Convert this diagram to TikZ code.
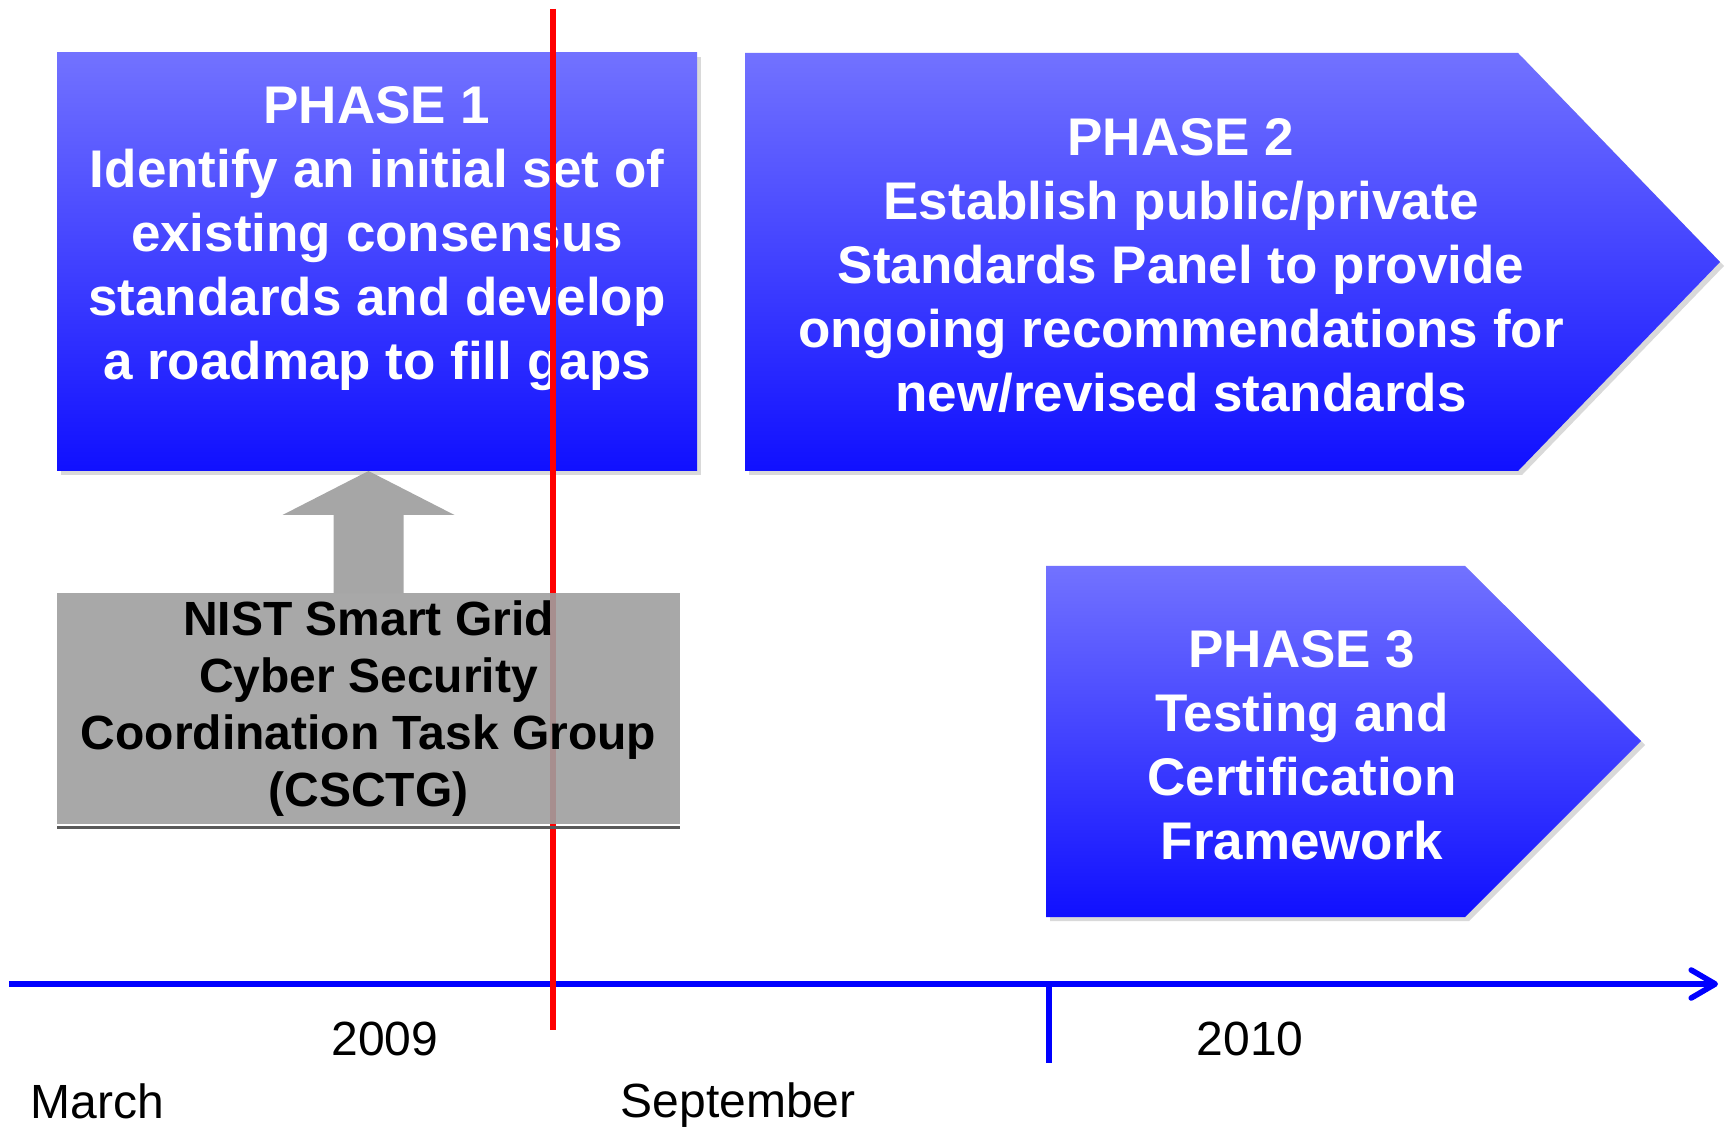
\documentclass[tikz,border=0pt]{standalone}
\usepackage{fontspec}
\setmainfont{Liberation Sans}
\usepackage{xcolor}
\usepackage{tikz}
\usetikzlibrary{arrows.meta,positioning,calc,shadows}
\definecolor{phtop}{RGB}{114,114,255}
\definecolor{phbot}{RGB}{16,16,255}

\begin{document}
\begin{tikzpicture}[x=0.5pt,y=-0.5pt,
 phase/.style={top color=phtop,bottom color=phbot,
 drop shadow={opacity=.3,shadow xshift=2pt,shadow yshift=-2pt}},
 phtxt/.style={text=white,align=center,inner sep=0pt,
 font=\fontsize{26.5pt}{32pt}\selectfont\bfseries},
 grp/.style={fill=black!38,fill opacity=.9,text opacity=1,inner sep=0pt,
 outer sep=0pt,align=center,font=\fontsize{24pt}{28.6pt}\selectfont\bfseries},
 lbl/.style={font=\fontsize{24pt}{28pt}\selectfont,inner sep=0pt},
 axis/.style={blue,line width=2.8pt,-{Straight Barb[round,length=12pt,width=14pt]}}]
\useasboundingbox (0,0) rectangle (1727,1127);

% phases
\node[phase,outer sep=0pt,minimum width=320pt,minimum height=209pt,
 anchor=north west] (ph1) at (57,53) {};
\path[phase] (745,53) -- (1518,53) -- (1720,262) -- (1518,471) -- (745,471) -- cycle;
\path[phase] (1046,566) -- (1465,566) -- (1641,741) -- (1465,917) -- (1046,917) -- cycle;
\node[phtxt] (ph1txt) at (377,239) {PHASE 1\\Identify an initial set of\\existing consensus\\standards and develop\\a roadmap to fill gaps};
\node[phtxt] (ph2txt) at (1181,266) {PHASE 2\\Establish public/private\\Standards Panel to provide\\ongoing recommendations for\\new/revised standards};
\node[phtxt] (ph3txt) at (1302,745) {PHASE 3\\Testing and\\Certification\\Framework};

% time line
\coordinate (t0) at (9,984);
\coordinate (t1) at (1718,984);
\coordinate (tk) at (1049,984);
\draw[axis] (t0) -- (t1);
\draw[blue,line width=2.8pt] (tk) -- ++(0,79);
\coordinate (r0) at (553,9);
\coordinate (r1) at (553,1030);
\draw[red,line width=2.9pt] (r0) -- (r1);

% task group
\node[grp,minimum width=311.5pt,minimum height=115.5pt,anchor=north west]
 (csctg) at (57,593) {NIST Smart Grid\\Cyber Security\\Coordination Task Group\\(CSCTG)};
\draw[black!65,line width=1.6pt] ([yshift=-1.6pt]csctg.south west) -- ([yshift=-1.6pt]csctg.south east);
\fill[black!35] ($(csctg.north)+(-35,0)$) -- ++(0,-78) -- ++(-51,0)
 -- (csctg.north |- ph1.south) -- ($(csctg.north)+(86,-78)$) -- ++(-51,0)
 -- ++(0,78) -- cycle;

\node[lbl] (y09) at (385,1039) {2009};
\node[lbl] (y10) at (1250,1039) {2010};
\node[lbl,anchor=west] (mar) at (30,1101) {March};
\node[lbl] (sep) at (738,1105) {September};
\end{tikzpicture}
\end{document}
